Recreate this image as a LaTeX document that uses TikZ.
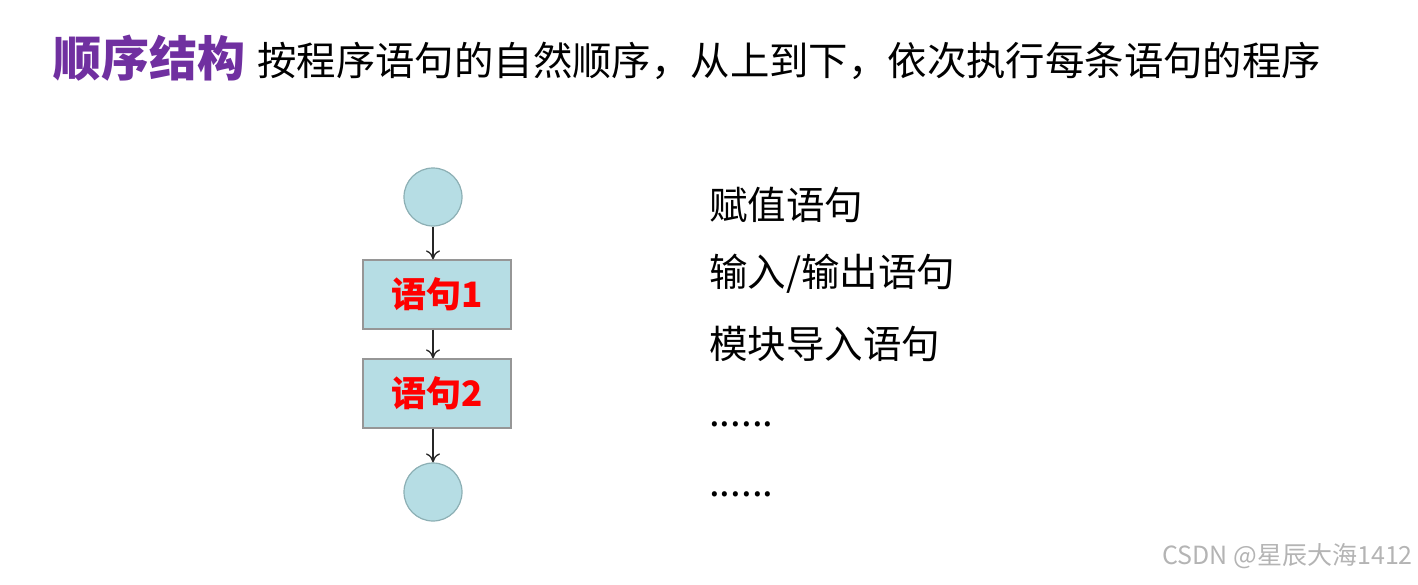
\documentclass[tikz,border=0pt]{standalone}
\usepackage{fontspec}
\newfontfamily\cjk{Noto Sans CJK SC}
\usetikzlibrary{arrows.meta}
\definecolor{titlepurple}{RGB}{112,48,160}
\definecolor{flowfill}{RGB}{182,221,228}
\definecolor{circedge}{RGB}{140,175,180}
\definecolor{boxedge}{RGB}{150,150,150}
\definecolor{wmgray}{RGB}{180,180,180}
\tikzset{
  txt/.style={inner sep=0pt, anchor=west, font=\cjk\fontsize{38.5}{44}\selectfont, text=black},
  endpt/.style={circle, draw=circedge, fill=flowfill, line width=1.2pt, minimum size=58pt, inner sep=0pt},
  stmt/.style={rectangle, draw=boxedge, fill=flowfill, line width=1.2pt, minimum width=148pt, minimum height=69pt, inner sep=0pt, font=\cjk\bfseries\fontsize{35}{38}\selectfont, text=red},
  flow/.style={-{To[length=9pt,width=14pt]}, line width=1.3pt, black!85}
}
\begin{document}
\begin{tikzpicture}[x=1pt,y=-1pt]
\useasboundingbox (0,0) rectangle (1418,584);
\node[inner sep=0pt, anchor=west, font=\cjk\bfseries\fontsize{48}{52}\selectfont, text=titlepurple] (title) at (53,58) {顺序结构};
\node[inner sep=0pt, anchor=west, font=\cjk\fontsize{39.4}{44}\selectfont] (sub) at (257,61) {按程序语句的自然顺序，从上到下，依次执行每条语句的程序};
\node[endpt] (start) at (433,197) {};
\node[stmt] (s1) at (437,294.5) {语句1};
\node[stmt] (s2) at (437,393.5) {语句2};
\node[endpt] (stop) at (433,492) {};
\draw[flow] (start.south) -- (s1.north -| start.south);
\draw[flow] (s1.south -| start.south) -- (s2.north -| start.south);
\draw[flow] (s2.south -| start.south) -- (stop.north);
\node[txt] (l1) at (709,205) {赋值语句};
\node[txt] (l2) at (709,274) {输入/输出语句};
\node[txt] (l3) at (709,344) {模块导入语句};
\node[txt] (l4) at (709,424) {......};
\node[txt] (l5) at (709,494) {......};
\node[inner sep=0pt, anchor=east, font=\cjk\fontsize{25}{28}\selectfont, text=wmgray] (wm) at (1413,556) {CSDN @星辰大海1412};
\end{tikzpicture}
\end{document}
